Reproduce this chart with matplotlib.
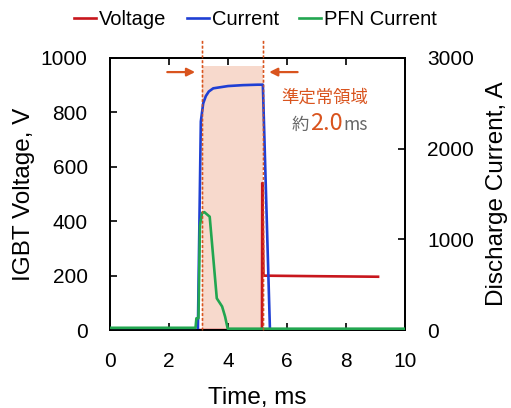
import matplotlib.pyplot as plt

# data (time in ms)
v_time = [0, 3.1, 5.15, 5.16, 5.2, 7.0, 9.08]
voltage = [0, 0, 0, 540, 200, 198, 196]

i_time = [0, 2.98, 3.08, 3.16, 3.25, 3.35, 3.5, 4.0, 4.5, 5.0, 5.18, 5.42, 10]
current = [0, 0, 2300, 2500, 2580, 2630, 2665, 2690, 2700, 2705, 2705, 0, 0]

pfn_time = [0, 2.9, 2.93, 3.0, 3.05, 3.12, 3.2, 3.38, 3.5, 3.62, 3.72, 3.8, 3.9, 3.99, 10]
pfn = [25, 25, 130, 130, 1150, 1290, 1300, 1250, 800, 350, 300, 260, 150, 15, 15]

window = [3.12, 5.19]

red = "#c8161d"
blue = "#1f3fd4"
green = "#22a650"
orange = "#d9541e"

plt.rcParams["font.family"] = ["Liberation Sans", "DejaVu Sans"]

fig = plt.figure(figsize=(5.11, 4.08), dpi=100)
ax1 = fig.add_axes([0.215, 0.191, 0.578, 0.667])
ax2 = ax1.twinx()

ax1.axvspan(window[0], window[1], ymin=0, ymax=0.97, color="#f7d9cc", lw=0, zorder=0)
l1, = ax1.plot(v_time, voltage, color=red, lw=1.9, label="Voltage", zorder=2)
l2, = ax2.plot(i_time, current, color=blue, lw=1.9, label="Current", zorder=2)
l3, = ax2.plot(pfn_time, pfn, color=green, lw=1.9, label="PFN Current", zorder=3)

for x in window:
    ax1.plot([x, x], [0, 1066], color=orange, lw=1.0, ls=(0, (2, 1.5)), clip_on=False, zorder=1)
    ax2.plot([x, x], [0, 3200], color=orange, lw=1.0, ls=(0, (2, 1.5)), clip_on=False, zorder=4, alpha=0.8)

ax1.annotate("", xy=(2.98, 948), xytext=(1.85, 948),
             arrowprops=dict(arrowstyle="-|>", color=orange, lw=1.6, mutation_scale=12))
ax1.annotate("", xy=(5.3, 948), xytext=(6.45, 948),
             arrowprops=dict(arrowstyle="-|>", color=orange, lw=1.6, mutation_scale=12))

jp = ["Noto Sans CJK JP", "DejaVu Sans"]
ax1.text(7.28, 855, "準定常領域", color=orange, fontsize=12.5, ha="center", va="center", family=jp)
ax1.text(6.15, 735, "約", color="#666666", fontsize=12.5, ha="left", va="baseline", family=jp)
ax1.text(6.78, 735, "2.0", color=orange, fontsize=17, ha="left", va="baseline", family=jp)
ax1.text(7.9, 735, "ms", color="#666666", fontsize=12.5, ha="left", va="baseline", family=jp)

ax1.set_xlim(0, 10)
ax1.set_ylim(0, 1000)
ax2.set_ylim(0, 3000)
ax1.set_xticks([0, 2, 4, 6, 8, 10])
ax1.set_yticks([0, 200, 400, 600, 800, 1000])
ax2.set_yticks([0, 1000, 2000, 3000])

ax1.tick_params(direction="in", top=True, length=5, width=1.2, labelsize=15, pad=16)
ax2.tick_params(direction="in", length=5, width=1.2, labelsize=15, pad=16)
for ax in (ax1, ax2):
    for s in ax.spines.values():
        s.set_linewidth(1.3)

ax1.set_xlabel("Time, ms", fontsize=17.5)
ax1.set_ylabel("IGBT Voltage, V", fontsize=17.5)
ax2.set_ylabel("Discharge Current, A", fontsize=17.5)
ax1.xaxis.set_label_coords(0.5, -0.25)
ax1.xaxis.label.set_va("center")
ax1.yaxis.set_label_coords(-0.29, 0.5)
ax1.yaxis.label.set_va("center")
ax2.yaxis.set_label_coords(1.31, 0.5)
ax2.yaxis.label.set_va("center")

fig.legend(handles=[l1, l2, l3], loc="center", bbox_to_anchor=(0.5, 0.951), ncol=3,
           frameon=False, fontsize=14.5, handlelength=1.1, handletextpad=0.15,
           columnspacing=1.0)

fig.savefig("out.png", dpi=100)
